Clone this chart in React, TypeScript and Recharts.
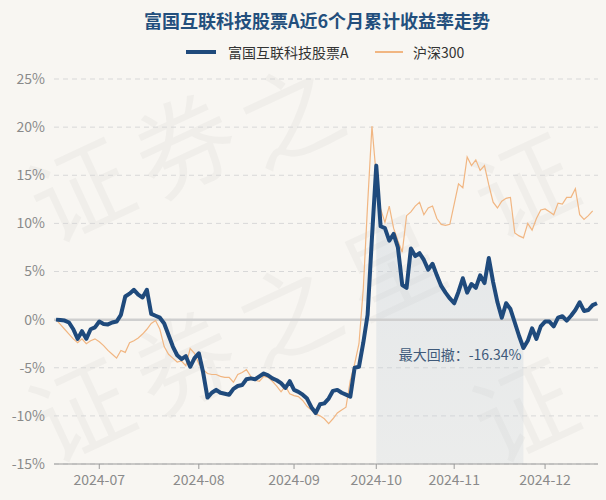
import React from "react";
import {
  ComposedChart,
  Line,
  Area,
  XAxis,
  YAxis,
  CartesianGrid,
  ReferenceLine,
  ReferenceDot,
} from "recharts";

// trading days, 2024-06-17 .. 2024-12-18
const dates = [
  "2024-06-17", "2024-06-18", "2024-06-19", "2024-06-20", "2024-06-21", "2024-06-24", "2024-06-25", "2024-06-26", "2024-06-27", "2024-06-28",
  "2024-07-01", "2024-07-02", "2024-07-03", "2024-07-04", "2024-07-05", "2024-07-08", "2024-07-09", "2024-07-10", "2024-07-11", "2024-07-12",
  "2024-07-15", "2024-07-16", "2024-07-17", "2024-07-18", "2024-07-19", "2024-07-22", "2024-07-23", "2024-07-24", "2024-07-25", "2024-07-26",
  "2024-07-29", "2024-07-30", "2024-07-31",
  "2024-08-01", "2024-08-02", "2024-08-05", "2024-08-06", "2024-08-07", "2024-08-08", "2024-08-09", "2024-08-12", "2024-08-13", "2024-08-14",
  "2024-08-15", "2024-08-16", "2024-08-19", "2024-08-20", "2024-08-21", "2024-08-22", "2024-08-23", "2024-08-26", "2024-08-27", "2024-08-28",
  "2024-08-29", "2024-08-30",
  "2024-09-02", "2024-09-03", "2024-09-04", "2024-09-05", "2024-09-06", "2024-09-09", "2024-09-10", "2024-09-11", "2024-09-12", "2024-09-13",
  "2024-09-18", "2024-09-19", "2024-09-20", "2024-09-23", "2024-09-24", "2024-09-25", "2024-09-26", "2024-09-27", "2024-09-30",
  "2024-10-08", "2024-10-09", "2024-10-10", "2024-10-11", "2024-10-14", "2024-10-15", "2024-10-16", "2024-10-17", "2024-10-18", "2024-10-21",
  "2024-10-22", "2024-10-23", "2024-10-24", "2024-10-25", "2024-10-28", "2024-10-29", "2024-10-30", "2024-10-31",
  "2024-11-01", "2024-11-04", "2024-11-05", "2024-11-06", "2024-11-07", "2024-11-08", "2024-11-11", "2024-11-12", "2024-11-13", "2024-11-14",
  "2024-11-15", "2024-11-18", "2024-11-19", "2024-11-20", "2024-11-21", "2024-11-22", "2024-11-25", "2024-11-26", "2024-11-27", "2024-11-28",
  "2024-11-29",
  "2024-12-02", "2024-12-03", "2024-12-04", "2024-12-05", "2024-12-06", "2024-12-09", "2024-12-10", "2024-12-11", "2024-12-12", "2024-12-13",
  "2024-12-16", "2024-12-17", "2024-12-18",
];

// 富国互联科技股票A, cumulative return %
const fundValues = [
  0, -0.05, -0.1, -0.3, -1.0, -2.0, -1.2, -2.0, -1.0, -0.8,
  -0.2, -0.45, -0.5, -0.3, -0.2, 0.5, 2.4, 2.7, 3.1, 2.6,
  2.3, 3.1, 0.6, 0.4, 0.2, -0.4, -1.6, -2.8, -3.7, -4.1,
  -3.8, -4.9, -4.0, -3.5, -5.5, -8.1, -7.6, -7.3, -7.6, -7.7,
  -7.8, -7.2, -6.9, -6.8, -6.2, -6.1, -6.2, -5.9, -5.6, -5.8,
  -6.1, -6.3, -6.6, -7.1, -6.4, -7.3, -7.5, -7.8, -8.2, -9.1,
  -9.7, -8.8, -8.7, -8.2, -7.4, -7.3, -7.6, -7.8, -8.0, -5.0,
  -4.9, -2.4, 0.5, 8.5, 16.0, 9.7, 9.5, 8.2, 8.9, 7.5,
  3.6, 3.3, 7.4, 6.6, 6.9, 6.2, 5.2, 5.8, 4.6, 3.5,
  2.8, 2.2, 1.7, 2.9, 4.3, 2.8, 3.7, 3.3, 4.6, 3.8,
  6.4, 3.9, 1.8, 0.2, 1.7, 1.1, -0.3, -1.7, -2.95, -2.2,
  -0.9, -2.0, -0.7, -0.2, -0.2, -0.7, 0.2, 0.35, -0.1, 0.4,
  1.0, 1.8, 0.9, 1.0, 1.5, 1.7,
];

// 沪深300, cumulative return % (no value for the last day)
const indexValues = [
  0, -0.5, -1.0, -1.5, -2.0, -2.4, -2.0, -2.5, -2.2, -2.0,
  -2.3, -2.7, -3.2, -3.6, -4.0, -3.2, -3.4, -2.4, -2.2, -1.9,
  -1.5, -1.0, -0.4, -0.1, -1.0, -2.8, -3.6, -4.0, -4.4, -4.3,
  -4.8, -3.0, -3.5, -4.6, -5.2, -5.6, -5.7, -5.7, -5.9, -6.0,
  -6.0, -6.5, -5.7, -5.5, -5.2, -5.9, -6.3, -6.4, -5.9, -6.0,
  -6.4, -6.9, -7.5, -6.9, -7.7, -7.9, -8.0, -8.4, -9.0, -9.4,
  -9.8, -10.0, -10.3, -10.8, -10.3, -9.7, -9.4, -9.1, -6.3, -4.6,
  -2.5, 3.2, 12.0, 20.1, 14.9, 11.5, 10.1, 11.8, 9.5, 8.2,
  7.0, 10.8, 11.2, 11.8, 12.2, 10.9, 11.6, 11.8, 10.5, 9.9,
  9.8, 9.9, 12.0, 14.1, 13.7, 16.9, 16.0, 16.6, 15.5, 16.0,
  14.0, 12.2, 11.6, 12.3, 12.6, 12.7, 9.0, 8.7, 8.5, 10.0,
  9.3, 10.5, 11.4, 11.5, 11.2, 10.9, 12.1, 12.0, 12.7, 12.7,
  13.6, 10.9, 10.4, 10.8, 11.3, null,
];

const yTicks = [-15, -10, -5, 0, 5, 10, 15, 20, 25];
const monthTicks = ["2024-07-01", "2024-08-01", "2024-09-02", "2024-10-08", "2024-11-01", "2024-12-02"];

// max drawdown window: peak and trough
const ddStart = "2024-10-08";
const ddEnd = "2024-11-25";
const ddLabel = "最大回撤：-16.34%";

const FUND_COLOR = "#1f4a7c";
const INDEX_COLOR = "#f1b682";
const FONT = '"Noto Sans CJK SC", "Noto Sans", sans-serif';

const startIdx = dates.indexOf(ddStart);
const endIdx = dates.indexOf(ddEnd);

const data = dates.map((d, i) => ({
  date: d,
  fund: fundValues[i],
  hs300: indexValues[i],
  dd: i >= startIdx && i <= endIdx ? fundValues[i] : null,
}));

// background watermark glyphs (only the ones that sit fully inside the frame)
const watermarkChars: [string, number, number][] = [
  ["证", 78, 185],
  ["券", 182, 140],
  ["之", 288, 110],
  ["证", 522, 180],
  ["证", 78, 405],
  ["券", 182, 357],
  ["之", 286, 309],
  ["星", 390, 261],
  ["证", 522, 405],
];

function Watermark() {
  return (
    <svg width={606} height={500} style={{ position: "absolute", left: 0, top: 0 }}>
      {watermarkChars.map(([ch, x, y], i) => (
        <text
          key={i}
          x={x}
          y={y}
          textAnchor="middle"
          dominantBaseline="central"
          transform={`rotate(-25 ${x} ${y})`}
          fontSize={100}
          fontFamily={FONT}
          fill="#000"
          fillOpacity={0.032}
        >
          {ch}
        </text>
      ))}
    </svg>
  );
}

export default function App() {
  return (
    <div
      style={{
        position: "absolute",
        left: 0,
        top: 0,
        width: 606,
        height: 500,
        background: "#f8f6f2",
        overflow: "hidden",
        fontFamily: FONT,
      }}
    >
      <Watermark />
      <div
        style={{
          position: "absolute",
          left: 0,
          top: 8,
          width: 634,
          textAlign: "center",
          fontSize: 18,
          fontWeight: 700,
          color: "#234f7d",
          lineHeight: "24px",
        }}
      >
        富国互联科技股票A近6个月累计收益率走势
      </div>
      {/* legend */}
      <div style={{ position: "absolute", left: 186, top: 50, width: 30, height: 4, background: FUND_COLOR }} />
      <div style={{ position: "absolute", left: 228, top: 42, fontSize: 14, lineHeight: "20px", color: "#333" }}>
        富国互联科技股票A
      </div>
      <div style={{ position: "absolute", left: 375, top: 51, width: 28, height: 1.5, background: INDEX_COLOR }} />
      <div style={{ position: "absolute", left: 413, top: 42, fontSize: 14, lineHeight: "20px", color: "#333" }}>
        沪深300
      </div>

      <div style={{ position: "absolute", left: 0, top: 0 }}>
        <ComposedChart width={606} height={500} data={data} margin={{ top: 79, right: 8, bottom: 6, left: 0 }}>
          <defs>
            <linearGradient id="ddFill" x1="0" y1="0" x2="0" y2="1">
              <stop offset="0%" stopColor="#b7c6d6" stopOpacity={0.55} />
              <stop offset="100%" stopColor="#c9d2da" stopOpacity={0.45} />
            </linearGradient>
          </defs>
          <CartesianGrid vertical={false} stroke="#d8d8d8" strokeDasharray="5 4" />
          <XAxis
            dataKey="date"
            ticks={monthTicks}
            interval={0}
            tickFormatter={(d: string) => d.slice(0, 7)}
            tickSize={5}
            tickMargin={6}
            height={30}
            padding={{ left: 2, right: 1 }}
            axisLine={{ stroke: "#9a9a9a" }}
            tickLine={{ stroke: "#9a9a9a" }}
            tick={{ fill: "#8a8a8a", fontSize: 14, fontFamily: FONT }}
          />
          <YAxis
            type="number"
            domain={[-15, 25]}
            ticks={yTicks}
            interval={0}
            width={54}
            axisLine={false}
            tickLine={false}
            tickMargin={3}
            tickFormatter={(v: number) => `${v}%`}
            tick={{ fill: "#8a8a8a", fontSize: 14, fontFamily: FONT }}
          />
          <ReferenceLine y={0} stroke="#cfcfcf" strokeWidth={2.5} />
          <Area
            dataKey="dd"
            type="linear"
            baseValue="dataMin"
            stroke="none"
            fill="url(#ddFill)"
            isAnimationActive={false}
            connectNulls={false}
          />
          <Line
            dataKey="hs300"
            type="linear"
            stroke={INDEX_COLOR}
            strokeWidth={1.2}
            dot={false}
            isAnimationActive={false}
          />
          <Line
            dataKey="fund"
            type="linear"
            stroke={FUND_COLOR}
            strokeWidth={4}
            dot={false}
            strokeLinejoin="round"
            isAnimationActive={false}
          />
          <ReferenceDot
            x={ddEnd}
            y={-3.7}
            r={0}
            stroke="none"
            fill="none"
            label={{ value: ddLabel, position: "left", offset: 2, fill: "#3f5a7a", fontSize: 14, fontFamily: FONT }}
          />
        </ComposedChart>
      </div>
    </div>
  );
}
